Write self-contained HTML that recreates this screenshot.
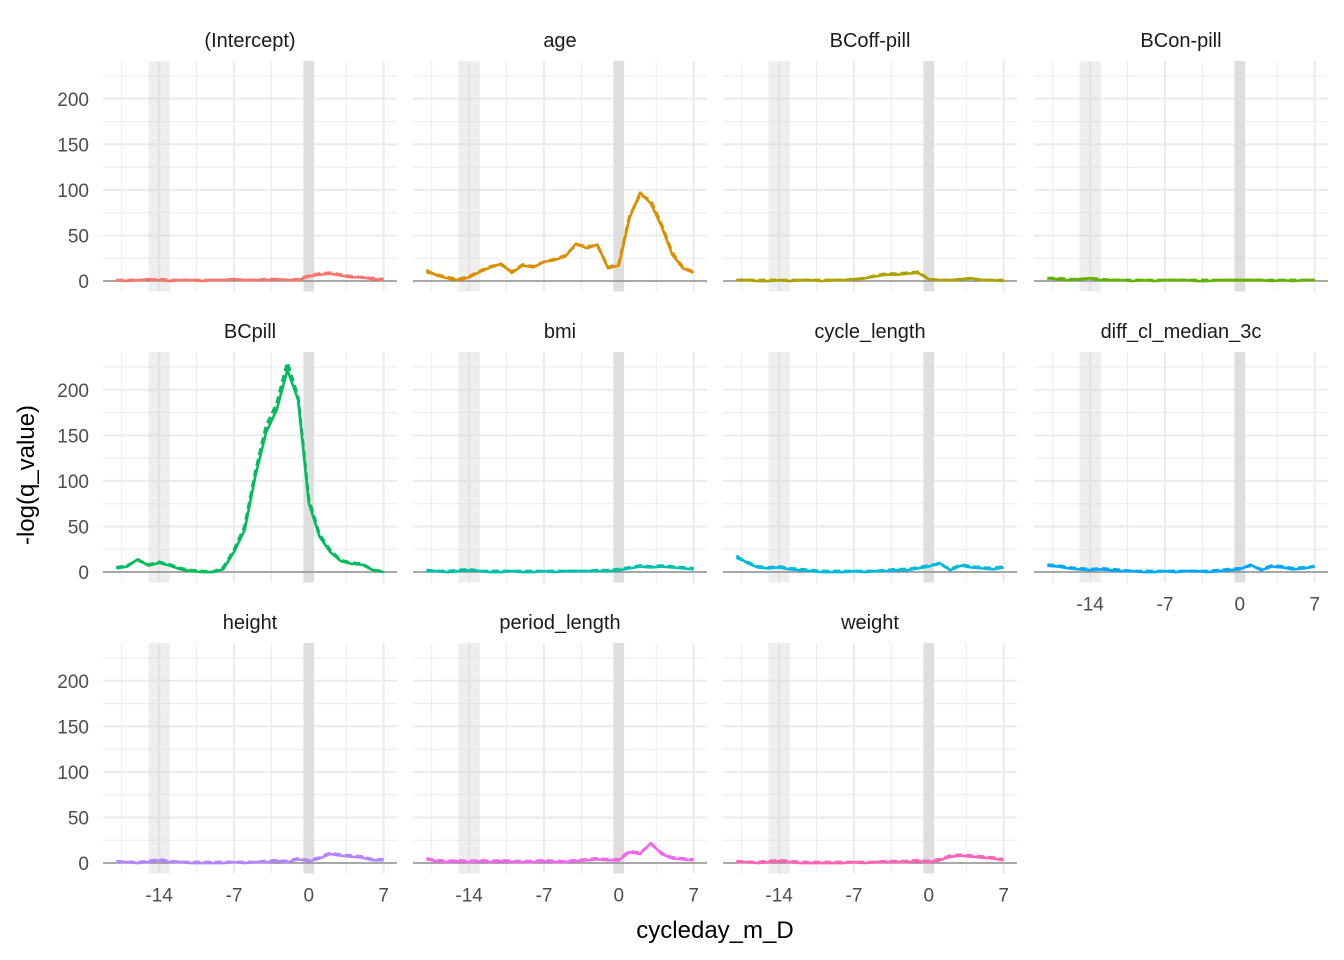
<!DOCTYPE html>
<html><head><meta charset="utf-8"><style>
html,body{margin:0;padding:0;background:#fff;}
svg{display:block;font-family:"Liberation Sans",Arial,sans-serif;}
</style></head><body>
<svg id="chart" width="1344" height="960" viewBox="0 0 1344 960" xmlns="http://www.w3.org/2000/svg">
<text x="0" y="0" transform="translate(34,475) rotate(-90)" text-anchor="middle" font-size="24" fill="#000">-log(q_value)</text>
<text x="715" y="938" text-anchor="middle" font-size="24" fill="#000">cycleday_m_D</text>
</svg>
<script>
const days = [-18,-17,-16,-15,-14,-13,-12,-11,-10,-9,-8,-7,-6,-5,-4,-3,-2,-1,0,1,2,3,4,5,6,7];
const facetNames = ["(Intercept)","age","BCoff-pill","BCon-pill","BCpill","bmi","cycle_length","diff_cl_median_3c","height","period_length","weight"];
const facetColors = ["#F8766D","#DB8E00","#AEA200","#64B200","#00BD5C","#00C1A7","#00BADE","#00A6FF","#B385FF","#EF67EB","#FF63B6"];
const yTicks = [0,50,100,150,200];
const xTicks = [-14,-7,0,7];
const solid = [
 [1,0,1,2,1,0,1,1,0,1,1,2,1,1,1,2,1,1,5,7,8,6,4,4,2,1],
 [12,6,3,1,4,10,15,19,9,17,15,21,23,27,41,36,40,14,17,69,97,85,60,29,14,9],
 [1,1,0,0,1,0,1,1,0,1,1,2,3,5,7,7,8,9,2,1,1,2,3,1,1,0],
 [3,2,1,2,3,1,1,1,0,1,0,1,1,1,0,0,1,1,1,1,1,0,1,0,1,1],
 [4,6,14,7,10,7,3,1,0,0,3,22,46,105,153,178,222,189,76,39,22,12,9,8,2,0],
 [1,1,0,1,2,1,0,0,1,0,0,1,0,1,1,1,1,1,2,4,6,5,6,5,4,3],
 [18,10,5,4,5,3,2,1,0,0,0,1,0,1,1,2,2,4,6,10,2,7,5,4,3,5],
 [7,6,4,3,2,3,2,1,1,0,0,1,0,1,1,0,1,2,3,8,2,6,5,3,4,6],
 [1,1,0,1,3,1,1,0,0,0,0,1,0,1,1,2,1,4,2,5,10,8,7,6,3,3],
 [4,2,1,2,1,2,1,2,1,1,1,2,1,1,2,3,4,3,3,12,10,22,10,5,4,3],
 [1,1,0,1,2,1,0,0,0,0,0,1,0,1,1,1,1,2,1,3,7,8,7,6,5,3]
];
const dashed = [
 [1,1,1,1,2,1,1,1,1,1,1,2,1,1,2,2,1,2,6,8,9,7,5,4,3,2],
 [10,7,4,2,5,11,16,18,10,18,16,21,24,28,40,38,39,15,19,71,95,88,62,31,15,10],
 [1,1,1,1,1,1,1,1,1,1,1,2,3,6,8,8,9,10,2,1,1,2,3,1,1,1],
 [3,3,2,2,3,2,1,1,1,1,1,1,1,1,1,1,1,1,1,1,1,1,1,1,1,1],
 [5,7,13,8,11,8,4,2,1,0,5,24,50,110,160,185,230,192,80,41,24,13,10,9,2,1],
 [2,1,1,2,3,1,1,1,1,1,1,1,1,1,1,1,2,2,3,5,7,6,7,6,5,4],
 [16,11,6,5,6,4,3,2,1,1,1,1,1,1,2,3,3,5,7,9,3,8,6,5,4,6],
 [8,7,5,4,3,4,3,2,1,1,1,1,1,1,1,1,2,3,4,7,3,7,6,4,5,6],
 [2,1,1,2,4,2,1,1,1,1,1,1,1,1,2,3,2,5,3,6,11,9,8,7,4,4],
 [5,3,2,3,2,3,2,3,2,2,2,3,2,2,3,4,5,4,4,13,11,21,11,6,5,4],
 [2,1,1,2,3,2,1,1,1,1,1,1,1,1,2,2,2,3,2,4,8,9,8,7,6,4]
];
const NS="http://www.w3.org/2000/svg";
const svg=document.getElementById('chart');
const colX=[103,413,723,1034], rowY=[61,352,643], PW=294, PH=230.5;
const xMin=-19.25,xMax=8.25,yMin=-11.5,yMax=241.5;
function mk(t,a,p){const e=document.createElementNS(NS,t);for(const k in a)e.setAttribute(k,a[k]);(p||svg).appendChild(e);return e;}
facetNames.forEach((name,i)=>{
  const c=i%4,r=Math.floor(i/4);
  const X0=colX[c],Y0=rowY[r];
  const sx=v=>X0+(v-xMin)/(xMax-xMin)*PW;
  const sy=v=>Y0+(yMax-v)/(yMax-yMin)*PH;
  const g=mk('g',{});
  
  
  for(let v=25;v<=225;v+=50){const l=mk('line',{x1:X0,x2:X0+PW,y1:sy(v),y2:sy(v),stroke:'#EBEBEB','stroke-width':1},g);}
  [-17.5,-10.5,-3.5,3.5].forEach(v=>{const l=mk('line',{x1:sx(v),x2:sx(v),y1:Y0,y2:Y0+PH,stroke:'#EBEBEB','stroke-width':1},g);});
  yTicks.forEach(v=>{const l=mk('line',{x1:X0,x2:X0+PW,y1:sy(v),y2:sy(v),stroke:'#EBEBEB','stroke-width':2},g);});
  xTicks.forEach(v=>{const l=mk('line',{x1:sx(v),x2:sx(v),y1:Y0,y2:Y0+PH,stroke:'#EBEBEB','stroke-width':2},g);});
  const b1=mk('rect',{x:sx(-15),y:Y0,width:sx(-13)-sx(-15),height:PH,fill:'#D9D9D9','fill-opacity':0.45},g);
  
  const b2=mk('rect',{x:sx(-0.5),y:Y0,width:sx(0.5)-sx(-0.5),height:PH,fill:'#DEDEDE'},g);
  
  const z=mk('line',{x1:X0,x2:X0+PW,y1:sy(0),y2:sy(0),stroke:'#808080','stroke-width':1.2},g);
  
  const ps=mk('polyline',{points:days.map((d,k)=>sx(d)+','+sy(solid[i][k])).join(' '),fill:'none',stroke:facetColors[i],'stroke-width':2.6,'stroke-linejoin':'round'},g);
  
  const pd=mk('polyline',{points:days.map((d,k)=>sx(d)+','+sy(dashed[i][k])).join(' '),fill:'none',stroke:facetColors[i],'stroke-width':3,'stroke-dasharray':'7,4'},g);
  
  const st=mk('text',{x:X0+PW/2,y:Y0-14,'text-anchor':'middle','font-size':'20',fill:'#1A1A1A'},g);
  st.textContent=name;
  if(c===0){yTicks.forEach(v=>{const t=mk('text',{x:X0-14,y:sy(v)+7,'text-anchor':'end','font-size':'19',fill:'#4D4D4D'},g);t.textContent=v;});}
  if(r===2||i===7){xTicks.forEach(v=>{const t=mk('text',{x:sx(v),y:Y0+PH+28,'text-anchor':'middle','font-size':'19',fill:'#4D4D4D'},g);t.textContent=v;});}
});
</script>
</body></html>
